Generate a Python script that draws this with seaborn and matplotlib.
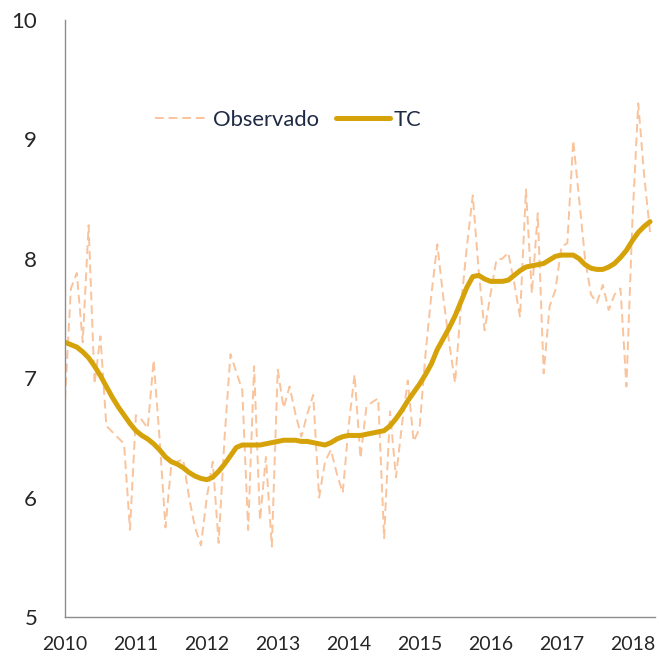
import numpy as np
import pandas as pd
import matplotlib
matplotlib.use("Agg")
import matplotlib.pyplot as plt
import seaborn as sns

years = ["2010", "2011", "2012", "2013", "2014", "2015", "2016", "2017", "2018"]

observado = [
    6.82, 7.75, 7.88, 7.30, 8.28, 6.95, 7.35, 6.60, 6.55, 6.50, 6.45, 5.73,
    6.69, 6.65, 6.58, 7.15, 6.50, 5.75, 6.28, 6.30, 6.32, 6.00, 5.75, 5.60,
    6.00, 6.30, 5.62, 6.50, 7.20, 7.05, 6.90, 5.73, 7.10, 5.81, 6.34, 5.59,
    7.07, 6.75, 6.93, 6.70, 6.51, 6.70, 6.86, 6.00, 6.30, 6.40, 6.20, 6.04,
    6.60, 7.03, 6.33, 6.76, 6.80, 6.83, 5.66, 6.72, 6.17, 6.60, 6.98, 6.47,
    6.58, 7.20, 7.70, 8.12, 7.68, 7.30, 6.96, 7.60, 8.10, 8.53, 7.90, 7.40,
    7.70, 7.99, 8.00, 8.05, 7.80, 7.51, 8.58, 7.71, 8.38, 7.04, 7.60, 7.74,
    8.10, 8.13, 8.99, 8.50, 8.00, 7.70, 7.63, 7.78, 7.57, 7.70, 7.75, 6.93,
    8.30, 9.30, 8.70, 8.22,
]

tc = [
    7.30, 7.28, 7.26, 7.22, 7.17, 7.10, 7.02, 6.93, 6.84, 6.76, 6.69, 6.62,
    6.56, 6.52, 6.49, 6.45, 6.40, 6.34, 6.30, 6.28, 6.25, 6.21, 6.18, 6.16,
    6.15, 6.17, 6.22, 6.28, 6.35, 6.42, 6.44, 6.44, 6.44, 6.44, 6.45, 6.46,
    6.47, 6.48, 6.48, 6.48, 6.47, 6.47, 6.46, 6.45, 6.44, 6.46, 6.49, 6.51,
    6.52, 6.52, 6.52, 6.53, 6.54, 6.55, 6.56, 6.60, 6.66, 6.73, 6.81, 6.88,
    6.95, 7.03, 7.12, 7.24, 7.33, 7.42, 7.52, 7.64, 7.76, 7.85, 7.86, 7.83,
    7.81, 7.81, 7.81, 7.82, 7.86, 7.90, 7.93, 7.94, 7.95, 7.96, 7.99, 8.02,
    8.03, 8.03, 8.03, 8.00, 7.95, 7.92, 7.91, 7.91, 7.93, 7.96, 8.01, 8.07,
    8.15, 8.22, 8.27, 8.31,
]

yticks = [5, 6, 7, 8, 9, 10]

df = pd.DataFrame({"mes": np.arange(len(observado)), "Observado": observado, "TC": tc})

sns.set_theme(style="white")
plt.rcParams["font.family"] = ["Lato", "DejaVu Sans"]

fig = plt.figure(figsize=(6.59, 6.59), dpi=100)
ax = fig.add_axes([0.0986, 0.0637, 0.895, 0.9063])

sns.lineplot(data=df, x="mes", y="Observado", ax=ax, color="#F9C39C",
             linewidth=1.4, linestyle=(0, (4.5, 2.5)), label="Observado")
sns.lineplot(data=df, x="mes", y="TC", ax=ax, color="#D6A20A",
             linewidth=3.6, label="TC", solid_capstyle="round")

ax.set_xlim(0, 99.8)
ax.set_ylim(5, 10)
ax.set_xticks([12 * i for i in range(len(years))])
ax.set_xticklabels(years)
ax.set_yticks(yticks)
ax.set_yticklabels([str(v) for v in yticks])
ax.set_xlabel("")
ax.set_ylabel("")

for s in ["top", "right"]:
    ax.spines[s].set_visible(False)
for s in ["left", "bottom"]:
    ax.spines[s].set_color("#8C8C8C")
    ax.spines[s].set_linewidth(1.0)

ax.tick_params(axis="y", length=0, pad=20, labelsize=16, labelcolor="#262626")
ax.tick_params(axis="x", length=0, pad=14, labelsize=14, labelcolor="#262626")

leg = ax.legend(loc="center left", bbox_to_anchor=(0.153, 0.832), ncol=2, frameon=False,
                fontsize=15.8, handlelength=2.45, handletextpad=0.2, columnspacing=0.75,
                borderaxespad=0, borderpad=0)
for t in leg.get_texts():
    t.set_color("#1F2A44")

fig.savefig("out.png", dpi=100)
